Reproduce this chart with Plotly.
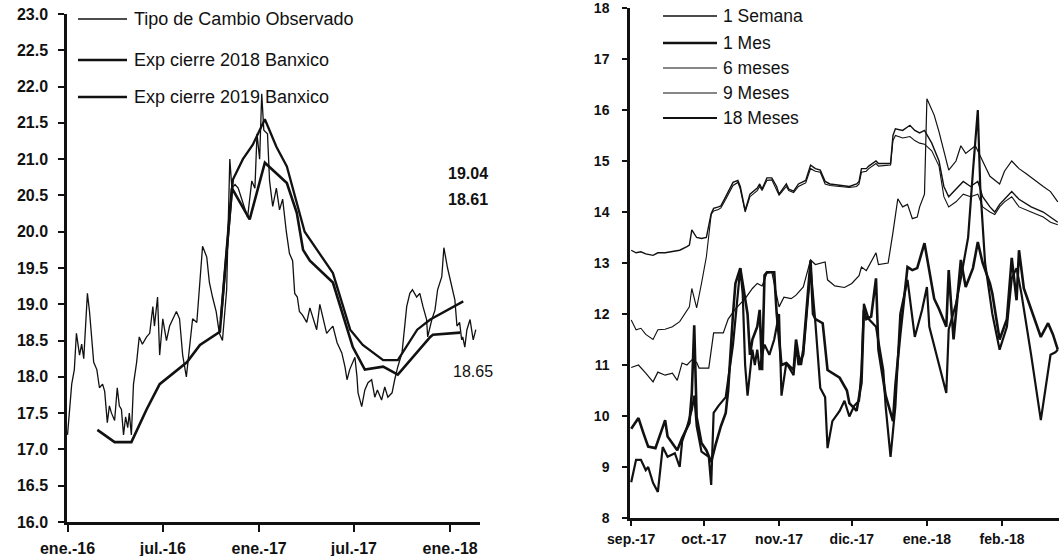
import plotly.graph_objects as go

W, H = 1059, 556

# ---------------- Left chart data ----------------
obs_dates = ["2016-01-01","2016-01-09","2016-01-14","2016-01-18","2016-01-24","2016-01-28","2016-02-01","2016-02-04","2016-02-08","2016-02-12",
             "2016-02-16","2016-02-20","2016-02-26","2016-03-02","2016-03-08","2016-03-12","2016-03-17","2016-03-21","2016-03-25","2016-03-31",
             "2016-04-05","2016-04-09","2016-04-13","2016-04-17","2016-04-21","2016-04-25","2016-04-28","2016-05-02","2016-05-06","2016-05-12",
             "2016-05-17","2016-05-23","2016-05-31","2016-06-06","2016-06-12","2016-06-15","2016-06-21","2016-06-25","2016-07-01","2016-07-08",
             "2016-07-14","2016-07-20","2016-07-27","2016-08-02","2016-08-08","2016-08-15","2016-08-21","2016-08-27","2016-09-04","2016-09-09",
             "2016-09-15","2016-09-23","2016-09-28","2016-10-04","2016-10-11","2016-10-17","2016-10-23","2016-10-31","2016-11-06","2016-11-10",
             "2016-11-16","2016-11-22","2016-11-29","2016-12-05","2016-12-10","2016-12-18","2016-12-24","2016-12-28","2017-01-02","2017-01-06",
             "2017-01-10","2017-01-17","2017-01-21","2017-01-27","2017-02-03","2017-02-09","2017-02-15","2017-02-22","2017-02-28","2017-03-06",
             "2017-03-10","2017-03-15","2017-03-19","2017-03-25","2017-04-02","2017-04-08","2017-04-14","2017-04-21","2017-04-27","2017-05-03",
             "2017-05-10","2017-05-16","2017-05-22","2017-05-30","2017-06-08","2017-06-14","2017-06-18","2017-06-23","2017-07-03","2017-07-07",
             "2017-07-09","2017-07-16","2017-07-22","2017-07-28","2017-08-04","2017-08-10","2017-08-15","2017-08-23","2017-08-29","2017-09-04",
             "2017-09-12","2017-09-17","2017-09-23","2017-10-01","2017-10-06","2017-10-10","2017-10-16","2017-10-21","2017-10-29","2017-11-04",
             "2017-11-10","2017-11-17","2017-11-19","2017-11-27","2017-12-03","2017-12-08","2017-12-16","2017-12-20","2017-12-27","2018-01-04",
             "2018-01-10","2018-01-14","2018-01-19","2018-01-23","2018-01-25","2018-01-29","2018-02-02","2018-02-08","2018-02-14","2018-02-19"]
obs_values = [17.2,17.9,18.1,18.6,18.3,18.45,18.25,18.6,19.15,18.9,
              18.6,18.2,18.1,17.85,17.9,17.8,17.37,17.6,17.5,17.4,
              17.85,17.6,17.55,17.2,17.45,17.3,17.5,17.2,17.9,18.2,
              18.55,18.45,18.55,18.6,18.97,18.7,19.1,18.3,18.8,18.5,
              18.7,18.8,18.9,18.8,18.3,18.0,18.4,18.8,18.75,19.2,
              19.8,19.65,19.3,19.1,18.9,18.6,18.5,19.2,21.0,20.6,
              20.65,20.6,20.45,20.3,20.2,20.7,20.6,21.35,21.0,21.9,
              21.4,21.35,20.7,20.35,20.6,20.3,20.45,20.0,19.7,19.6,
              19.15,19.1,18.9,18.85,18.75,18.95,18.8,18.65,19.0,18.8,
              18.6,18.65,18.7,18.47,18.33,18.14,17.96,18.1,18.27,18.0,
              17.78,17.59,17.82,17.92,17.96,17.72,17.82,17.68,17.86,17.72,
              17.78,17.96,18.14,18.33,18.65,18.97,19.15,19.2,19.1,19.15,
              18.97,18.79,18.55,18.79,18.92,19.2,19.38,19.78,19.5,19.24,
              19.06,18.7,18.75,18.51,18.55,18.41,18.65,18.79,18.51,18.65]

exp18_dates = ["2016-02-27","2016-03-31","2016-05-02","2016-05-31","2016-06-25","2016-07-20","2016-08-16","2016-09-10","2016-10-04","2016-10-18",
               "2016-11-10","2016-12-14","2017-01-12","2017-02-04","2017-02-23","2017-03-14","2017-03-26","2017-04-08","2017-05-22","2017-06-29",
               "2017-07-22","2017-08-26","2017-09-23","2017-11-24","2017-11-29","2018-01-20"]
exp18_values = [17.27,17.1,17.1,17.55,17.9,18.05,18.2,18.44,18.55,18.62,
                20.6,20.17,20.95,20.8,20.67,20.26,19.75,19.6,19.3,18.41,
                18.1,18.14,18.03,18.55,18.58,18.61]

exp19_dates = ["2016-10-20","2016-11-12","2016-12-01","2016-12-20","2017-01-12","2017-02-03","2017-02-23","2017-03-14","2017-03-29","2017-05-22",
               "2017-06-24","2017-07-18","2017-08-26","2017-09-23","2017-10-30","2017-11-24","2018-01-26"]
exp19_values = [18.8,20.72,21.0,21.2,21.55,21.17,20.9,20.4,20.0,19.43,
                18.65,18.44,18.23,18.23,18.65,18.79,19.04]

left_tickvals = ["2016-01-01","2016-07-01","2017-01-01","2017-07-01","2018-01-01"]
left_ticktext = ["ene.-16","jul.-16","ene.-17","jul.-17","ene.-18"]
left_names = ["Tipo de Cambio Observado","Exp cierre 2018 Banxico","Exp cierre 2019 Banxico"]
left_labels = ["19.04","18.61","18.65"]

# ---------------- Right chart data ----------------
ab_dates = ["2017-09-01","2017-09-03","2017-09-05","2017-09-07","2017-09-10","2017-09-12","2017-09-15","2017-09-18","2017-09-21","2017-09-24",
            "2017-09-25","2017-09-26","2017-09-28","2017-09-30","2017-10-02","2017-10-04","2017-10-05","2017-10-07","2017-10-08","2017-10-10",
            "2017-10-13","2017-10-15","2017-10-16","2017-10-18","2017-10-20","2017-10-23","2017-10-24","2017-10-25","2017-10-27","2017-10-29",
            "2017-10-31","2017-11-01","2017-11-04","2017-11-05","2017-11-07","2017-11-09","2017-11-11","2017-11-12","2017-11-14","2017-11-16",
            "2017-11-18","2017-11-20","2017-11-22","2017-11-26","2017-11-30","2017-12-03","2017-12-04","2017-12-05","2017-12-07","2017-12-08",
            "2017-12-11","2017-12-12","2017-12-17","2017-12-18","2017-12-19","2017-12-22","2017-12-25","2017-12-27","2017-12-29","2017-12-31",
            "2018-01-03","2018-01-06","2018-01-08","2018-01-10","2018-01-13","2018-01-16","2018-01-19","2018-01-22","2018-01-24","2018-01-27",
            "2018-01-29","2018-01-31","2018-02-02","2018-02-05","2018-02-08","2018-02-13","2018-02-18","2018-02-21","2018-02-24"]
m18_values = [13.25,13.2,13.22,13.18,13.15,13.2,13.2,13.22,13.25,13.32,
              13.35,13.65,13.5,13.48,13.5,13.97,14.07,14.1,14.12,14.3,
              14.58,14.62,14.5,14.03,14.35,14.47,14.55,14.45,14.67,14.67,
              14.5,14.35,14.55,14.45,14.41,14.55,14.6,14.62,14.92,14.85,
              14.82,14.6,14.55,14.52,14.5,14.55,14.6,14.85,14.85,14.9,
              15.0,14.95,14.95,15.5,15.63,15.6,15.7,15.6,15.55,15.6,
              15.35,15.0,14.5,14.3,14.45,14.6,14.5,14.6,14.3,14.1,
              14.0,14.15,14.25,14.4,14.25,14.1,14.0,13.9,13.8]
m9_values = [11.88,11.69,11.72,11.6,11.5,11.69,11.7,11.75,11.85,12.08,
             12.14,12.5,12.12,12.6,13.12,13.95,14.02,14.05,14.08,14.25,
             14.52,14.58,14.45,14.0,14.3,14.42,14.5,14.42,14.62,14.63,
             14.45,14.33,14.5,14.42,14.38,14.5,14.55,14.57,14.85,14.8,
             14.78,14.55,14.52,14.5,14.48,14.5,14.55,14.78,14.8,14.85,
             14.95,14.9,14.92,15.4,15.5,15.45,15.48,15.4,15.35,15.33,
             15.2,14.9,14.3,14.1,14.2,14.35,14.3,14.35,14.1,14.0,
             13.95,14.1,14.2,14.3,14.1,14.0,13.9,13.8,13.75]

m6_dates = ["2017-09-01","2017-09-04","2017-09-07","2017-09-10","2017-09-12","2017-09-15","2017-09-18","2017-09-20","2017-09-22","2017-09-24",
            "2017-09-26","2017-09-28","2017-09-29","2017-10-03","2017-10-05","2017-10-09","2017-10-11","2017-10-14","2017-10-18","2017-10-21",
            "2017-10-23","2017-10-25","2017-10-27","2017-10-29","2017-11-01","2017-11-03","2017-11-06","2017-11-08","2017-11-11","2017-11-14",
            "2017-11-16","2017-11-20","2017-11-21","2017-11-24","2017-11-28","2017-12-01","2017-12-04","2017-12-05","2017-12-07","2017-12-11",
            "2017-12-12","2017-12-16","2017-12-18","2017-12-20","2017-12-22","2017-12-24","2017-12-26","2017-12-28","2017-12-29","2017-12-31",
            "2018-01-01","2018-01-04","2018-01-06","2018-01-08","2018-01-10","2018-01-13","2018-01-15","2018-01-17","2018-01-21","2018-01-23",
            "2018-01-25","2018-01-27","2018-01-31","2018-02-02","2018-02-05","2018-02-08","2018-02-11","2018-02-15","2018-02-18","2018-02-21",
            "2018-02-24"]
m6_values = [10.95,11.0,10.84,10.67,10.86,10.8,10.84,10.7,11.04,11.0,
             11.1,11.05,10.94,10.94,11.63,11.63,11.9,12.1,12.3,12.5,
             12.6,12.55,12.8,12.82,12.14,12.33,12.3,12.37,12.53,13.06,
             12.97,13.02,12.67,12.55,12.52,12.6,12.75,12.92,12.85,13.2,
             12.97,13.0,13.6,14.26,14.1,14.15,13.87,13.9,14.1,14.35,
             16.22,15.9,15.57,15.2,14.82,15.0,15.3,15.15,15.3,15.1,
             14.9,14.7,14.55,14.8,15.0,14.85,14.75,14.6,14.5,14.4,
             14.2]

m1_dates = ["2017-09-01","2017-09-04","2017-09-06","2017-09-08","2017-09-11","2017-09-13","2017-09-15","2017-09-16","2017-09-18","2017-09-20",
            "2017-09-22","2017-09-25","2017-09-26","2017-09-27","2017-09-28","2017-09-30","2017-10-02","2017-10-04","2017-10-06","2017-10-08",
            "2017-10-10","2017-10-11","2017-10-13","2017-10-14","2017-10-16","2017-10-17","2017-10-19","2017-10-20","2017-10-21","2017-10-23",
            "2017-10-24","2017-10-25","2017-10-26","2017-10-27","2017-10-30","2017-10-31","2017-11-02","2017-11-04","2017-11-07","2017-11-08",
            "2017-11-09","2017-11-10","2017-11-11","2017-11-14","2017-11-15","2017-11-16","2017-11-19","2017-11-21","2017-11-26","2017-11-29",
            "2017-11-30","2017-12-03","2017-12-05","2017-12-06","2017-12-07","2017-12-09","2017-12-11","2017-12-12","2017-12-15","2017-12-18",
            "2017-12-19","2017-12-21","2017-12-24","2017-12-26","2017-12-28","2017-12-31","2018-01-02","2018-01-04","2018-01-06","2018-01-09",
            "2018-01-10","2018-01-12","2018-01-15","2018-01-17","2018-01-20","2018-01-22","2018-01-24","2018-01-27","2018-01-28","2018-01-31",
            "2018-02-03","2018-02-05","2018-02-07","2018-02-08","2018-02-10","2018-02-14","2018-02-17","2018-02-20","2018-02-22","2018-02-24"]
m1_values = [9.75,9.96,9.67,9.4,9.37,9.63,9.92,9.6,9.47,9.33,
             9.57,9.86,10.45,11.78,9.98,9.47,9.33,9.1,9.47,9.8,
             10.06,10.5,12.0,12.6,12.9,12.6,12.0,11.2,11.5,11.75,
             12.08,10.9,12.76,12.82,12.82,12.02,11.0,11.04,10.9,11.5,
             11.2,11.0,11.3,13.05,12.0,11.9,11.82,10.9,10.75,10.5,
             10.25,10.1,10.65,12.08,11.9,11.95,12.7,11.3,10.4,9.9,
             10.6,11.6,12.92,12.86,12.9,13.39,12.8,12.3,12.1,11.75,
             12.86,11.5,13.06,12.53,12.9,13.41,13.0,12.6,12.4,11.5,
             11.9,13.1,12.27,13.25,12.5,11.94,11.55,11.82,11.6,11.3]

w1_dates = ["2017-09-01","2017-09-03","2017-09-05","2017-09-07","2017-09-08","2017-09-10","2017-09-12","2017-09-14","2017-09-16","2017-09-19",
            "2017-09-21","2017-09-22","2017-09-24","2017-09-26","2017-09-27","2017-09-28","2017-09-30","2017-10-03","2017-10-04","2017-10-05",
            "2017-10-07","2017-10-10","2017-10-13","2017-10-16","2017-10-17","2017-10-18","2017-10-19","2017-10-21","2017-10-22","2017-10-23",
            "2017-10-24","2017-10-25","2017-10-26","2017-10-28","2017-10-30","2017-11-01","2017-11-02","2017-11-04","2017-11-07","2017-11-08",
            "2017-11-09","2017-11-11","2017-11-14","2017-11-16","2017-11-18","2017-11-20","2017-11-21","2017-11-23","2017-11-26","2017-11-28",
            "2017-11-30","2017-12-02","2017-12-04","2017-12-05","2017-12-06","2017-12-08","2017-12-11","2017-12-14","2017-12-15","2017-12-17",
            "2017-12-19","2017-12-21","2017-12-24","2017-12-27","2017-12-30","2018-01-01","2018-01-02","2018-01-06","2018-01-09","2018-01-10",
            "2018-01-13","2018-01-15","2018-01-18","2018-01-20","2018-01-22","2018-01-23","2018-01-25","2018-01-28","2018-01-31","2018-02-03",
            "2018-02-05","2018-02-07","2018-02-09","2018-02-13","2018-02-17","2018-02-21","2018-02-23","2018-02-24"]
w1_values = [8.7,9.14,9.14,8.94,9.0,8.69,8.51,9.39,9.2,9.27,
             9.0,9.5,9.78,10.12,10.4,9.8,9.3,9.2,8.65,10.06,
             10.2,10.37,11.4,12.9,12.4,11.0,10.4,11.3,11.0,11.3,
             10.9,11.2,11.4,11.2,11.5,12.0,10.4,11.04,10.8,11.4,
             11.0,11.2,12.9,11.82,10.55,10.37,9.37,9.9,10.1,10.3,
             9.99,10.2,10.3,10.9,12.2,11.9,11.75,10.9,10.18,9.2,
             10.2,12.0,12.67,11.55,12.08,12.53,11.75,11.0,10.45,11.7,
             12.2,12.7,13.5,14.8,16.0,14.5,13.0,12.0,11.3,11.75,
             12.7,12.9,12.4,11.2,9.92,11.2,11.25,11.3]

right_tickvals = ["2017-09-01","2017-10-01","2017-11-01","2017-12-01","2018-01-01","2018-02-01"]
right_ticktext = ["sep.-17","oct.-17","nov.-17","dic.-17","ene.-18","feb.-18"]
right_yticks = [8, 9, 10, 11, 12, 13, 14, 15, 16, 17, 18]
right_names = ["1 Semana","1 Mes","6 meses","9 Meses","18 Meses"]

# ---------------- Figure ----------------
def px(x):
    return x / W

def py(y):
    return 1 - y / H

FONT = "Liberation Sans, Arial, sans-serif"
INK = "#111111"

fig = go.Figure()
fig.add_trace(go.Scatter(x=obs_dates, y=obs_values, mode="lines", name=left_names[0],
                         line=dict(color=INK, width=1.3), xaxis="x", yaxis="y"))
fig.add_trace(go.Scatter(x=exp18_dates, y=exp18_values, mode="lines", name=left_names[1],
                         line=dict(color=INK, width=2.6), xaxis="x", yaxis="y"))
fig.add_trace(go.Scatter(x=exp19_dates, y=exp19_values, mode="lines", name=left_names[2],
                         line=dict(color=INK, width=2.3), xaxis="x", yaxis="y"))

right_series = [(w1_dates, w1_values, 2.2), (m1_dates, m1_values, 2.6), (m6_dates, m6_values, 1.2),
                (ab_dates, m9_values, 1.1), (ab_dates, m18_values, 1.4)]
for name, (d, v, wdt) in zip(right_names, right_series):
    fig.add_trace(go.Scatter(x=d, y=v, mode="lines", name=name,
                             line=dict(color=INK, width=wdt), xaxis="x2", yaxis="y2"))

axis_common = dict(showgrid=False, zeroline=False, showline=True, linecolor=INK, linewidth=2.5,
                   ticks="outside", tickcolor=INK, tickwidth=2, automargin=False,
                   ticklabeloverflow="allow")

fig.update_layout(
    width=W, height=H,
    margin=dict(l=0, r=0, t=0, b=0, autoexpand=False),
    paper_bgcolor="white", plot_bgcolor="white",
    showlegend=False,
    font=dict(family=FONT, color=INK),
    xaxis=dict(domain=[px(67), px(480)], anchor="y", type="date",
               range=["2015-12-31", "2018-02-27"], tickvals=left_tickvals, ticktext=left_ticktext,
               ticklen=7, ticklabelstandoff=3, tickfont=dict(size=16, family=FONT, color=INK, weight="bold"),
               **axis_common),
    yaxis=dict(domain=[py(522), py(14)], anchor="x", range=[16, 23], dtick=0.5, tick0=16,
               tickformat=".1f", ticklen=6, ticklabelstandoff=7,
               tickfont=dict(size=16, family=FONT, color=INK, weight="bold"), **axis_common),
    xaxis2=dict(domain=[px(630), 1.0], anchor="y2", type="date",
                range=["2017-08-31 12:00", "2018-02-24 12:00"], tickvals=right_tickvals, ticktext=right_ticktext,
                ticklen=5, ticklabelstandoff=1, tickfont=dict(size=14, family=FONT, color=INK, weight="bold"),
                **axis_common),
    yaxis2=dict(domain=[py(518), py(8)], anchor="x2", range=[8, 18], tickvals=right_yticks,
                ticklen=5, ticklabelstandoff=10,
                tickfont=dict(size=14, family=FONT, color=INK, weight="bold"), **axis_common),
)

# ---- legends (drawn as decorations) ----
left_leg = [(19, 1.3), (60, 2.6), (97, 2.3)]
for (yy, wdt), name in zip(left_leg, left_names):
    fig.add_shape(type="line", xref="paper", yref="paper", x0=px(78), x1=px(127), y0=py(yy), y1=py(yy),
                  line=dict(color=INK, width=wdt))
    fig.add_annotation(xref="paper", yref="paper", x=px(132), y=py(yy), text=name, showarrow=False,
                       xanchor="left", yanchor="middle", font=dict(size=18, family=FONT, color=INK))

right_leg = [(16, 1.6), (43, 2.6), (68, 1.1), (93, 1.1), (118, 1.8)]
for (yy, wdt), name in zip(right_leg, right_names):
    fig.add_shape(type="line", xref="paper", yref="paper", x0=px(663), x1=px(717), y0=py(yy), y1=py(yy),
                  line=dict(color=INK, width=wdt))
    fig.add_annotation(xref="paper", yref="paper", x=px(721), y=py(yy), text=name, showarrow=False,
                       xanchor="left", yanchor="middle", font=dict(size=17.5, family=FONT, color=INK))

# ---- value labels ----
label_pos = [(468, 173, True), (468, 199, True), (473, 372, False)]
for (lx, ly, bold), txt in zip(label_pos, left_labels):
    fig.add_annotation(xref="paper", yref="paper", x=px(lx), y=py(ly),
                       text=f"<b>{txt}</b>" if bold else txt,
                       showarrow=False, borderpad=0, xanchor="center", yanchor="middle",
                       font=dict(size=16, family=FONT, color=INK))

# the page's default body margin would shift the 1059x556 figure; remove it
fig.write_html("out.html", config={"displayModeBar": False},
               post_script="document.body.style.margin='0px';")
